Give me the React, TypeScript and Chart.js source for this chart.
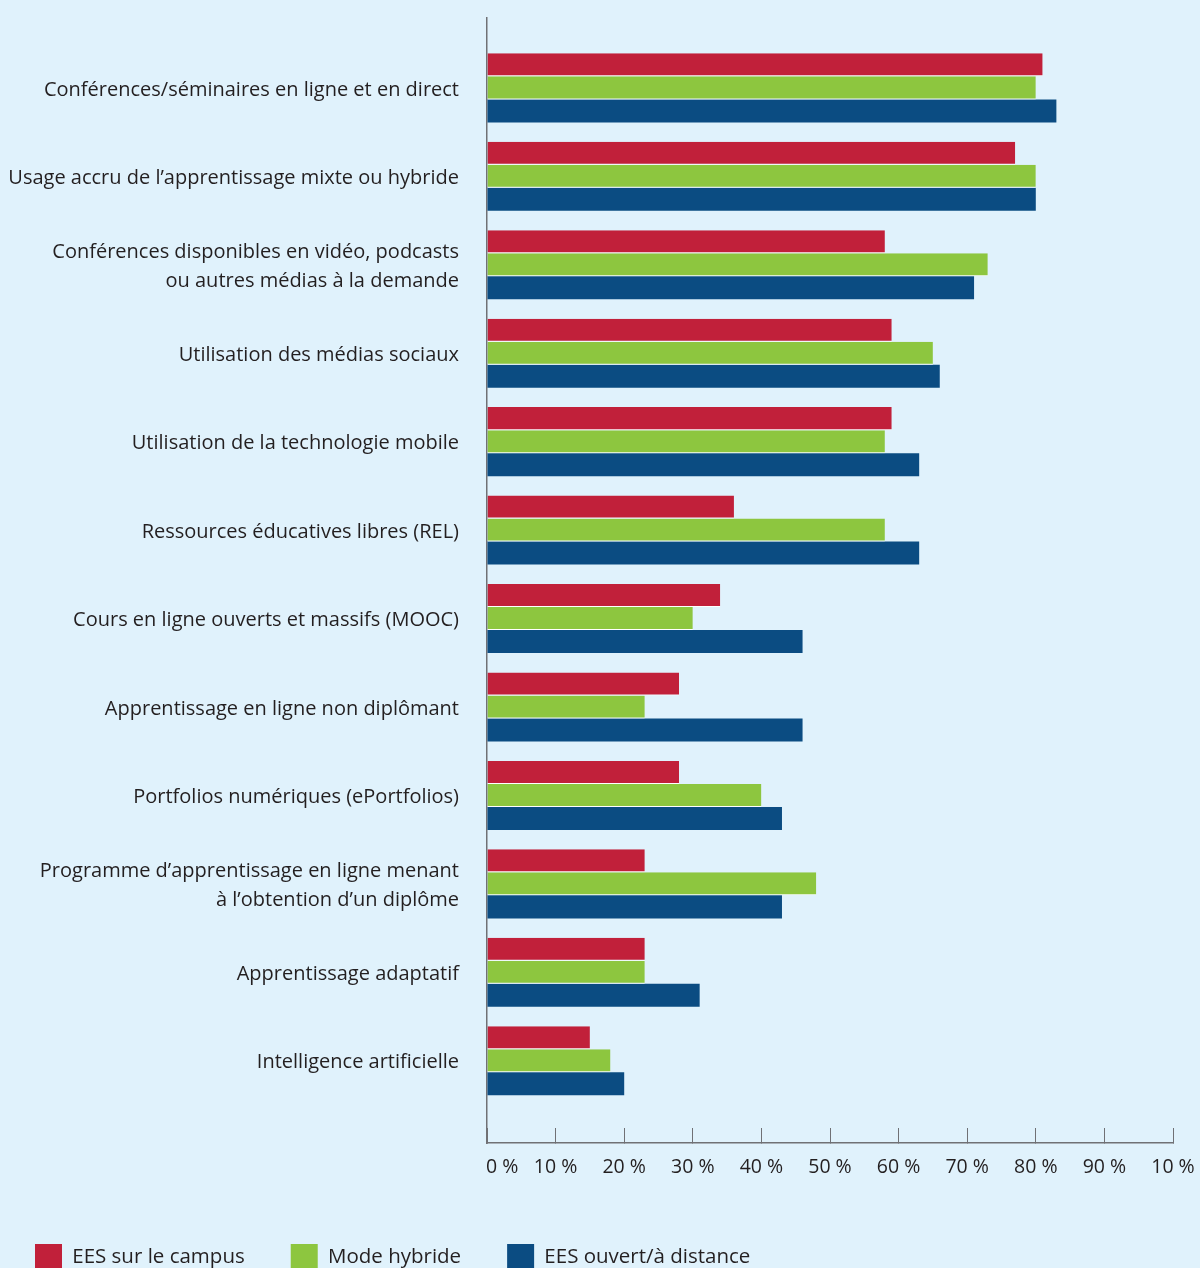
import React, { useEffect, useRef } from "react";
import { Chart, registerables } from "chart.js";

Chart.register(...registerables);

const categories: (string | string[])[] = [
  "Conférences/séminaires en ligne et en direct",
  "Usage accru de l’apprentissage mixte ou hybride",
  ["Conférences disponibles en vidéo, podcasts", "ou autres médias à la demande"],
  "Utilisation des médias sociaux",
  "Utilisation de la technologie mobile",
  "Ressources éducatives libres (REL)",
  "Cours en ligne ouverts et massifs (MOOC)",
  "Apprentissage en ligne non diplômant",
  "Portfolios numériques (ePortfolios)",
  ["Programme d’apprentissage en ligne menant", "à l’obtention d’un diplôme"],
  "Apprentissage adaptatif",
  "Intelligence artificielle",
];

const seriesNames = ["EES sur le campus", "Mode hybride", "EES ouvert/à distance"];
const campus = [81, 77, 58, 59, 59, 36, 34, 28, 28, 23, 23, 15];
const hybride = [80, 80, 73, 65, 58, 58, 30, 23, 40, 48, 23, 18];
const distance = [83, 80, 71, 66, 63, 63, 46, 46, 43, 43, 31, 20];
const xTickLabels = ["      0 %", "10 %", "20 %", "30 %", "40 %", "50 %", "60 %", "70 %", "80 %", "90 %", "10 %"];

const BG = "#e0f2fc";
const RED = "#c1203a";
const GREEN = "#8dc63f";
const BLUE = "#0b4c82";
const AXIS = "#707175";
const TEXT = "#231f20";
const FONT = "'Open Sans'";

export default function App() {
  const ref = useRef<HTMLCanvasElement>(null);

  useEffect(() => {
    document.body.style.margin = "0";
    document.body.style.background = BG;
    const toPts = (arr: number[]) => arr.map((v, i) => ({ x: v, y: i }));
    const chart = new Chart(ref.current as HTMLCanvasElement, {
      type: "bar",
      data: {
        datasets: [
          {
            label: seriesNames[0],
            data: toPts(campus),
            backgroundColor: RED,
            borderColor: "#ffffff",
            borderWidth: { top: 0, bottom: 1, left: 0, right: 0 },
            borderSkipped: false,
          },
          {
            label: seriesNames[1],
            data: toPts(hybride),
            backgroundColor: GREEN,
            borderColor: "#ffffff",
            borderWidth: { top: 0, bottom: 1, left: 0, right: 0 },
            borderSkipped: false,
          },
          {
            label: seriesNames[2],
            data: toPts(distance),
            backgroundColor: BLUE,
            borderWidth: 0,
          },
        ] as any,
      },
      options: {
        indexAxis: "y",
        responsive: true,
        maintainAspectRatio: false,
        animation: false,
        datasets: { bar: { categoryPercentage: 0.781, barPercentage: 1 } },
        layout: { padding: { top: 18, right: 27, left: -11, bottom: 0 } },
        scales: {
          x: {
            type: "linear",
            position: "bottom",
            min: 0,
            max: 100,
            ticks: {
              stepSize: 10,
              callback: (v: any) => xTickLabels[Math.round(Number(v) / 10)],
              padding: 28,
              color: TEXT,
              font: { family: FONT, size: 19.5 },
              maxRotation: 0,
            },
            grid: {
              drawOnChartArea: false,
              drawTicks: true,
              tickLength: -15,
              color: AXIS,
              lineWidth: 1,
            },
            border: { display: true, color: AXIS, width: 1.5 },
            afterFit: (s: any) => {
              s.height = 55;
              s.paddingLeft = 0;
              s.paddingRight = 0;
            },
          },
          y: {
            type: "linear",
            reverse: true,
            offset: false,
            min: -0.79,
            max: 11.93,
            afterBuildTicks: (s: any) => {
              s.ticks = categories.map((_, i) => ({ value: i }));
            },
            ticks: {
              autoSkip: false,
              callback: (v: any) => categories[Math.round(Number(v))] as any,
              padding: 28,
              labelOffset: 2,
              color: TEXT,
              font: { family: FONT, size: 20, lineHeight: 1.45 },
            },
            grid: { drawOnChartArea: false, drawTicks: false, color: AXIS },
            border: { display: true, color: AXIS, width: 1.5 },
            afterFit: (s: any) => {
              s.width = 498;
              s.paddingTop = 0;
              s.paddingBottom = 0;
            },
          },
        },
        plugins: {
          legend: {
            position: "bottom",
            align: "start",
            labels: {
              boxWidth: 27,
              boxHeight: 27,
              padding: 46,
              color: TEXT,
              font: { family: FONT, size: 20.5 },
              generateLabels: (c: any) =>
                Chart.defaults.plugins.legend.labels
                  .generateLabels(c)
                  .map((l: any) => ({ ...l, lineWidth: 0, strokeStyle: "rgba(0,0,0,0)" })),
            },
          },
          tooltip: { enabled: false },
        },
      } as any,
    });
    return () => chart.destroy();
  }, []);

  return (
    <div style={{ width: 1200, height: 1268, overflow: "hidden", background: BG }}>
      <div style={{ width: 1200, height: 1281, position: "relative" }}>
        <canvas ref={ref} />
      </div>
    </div>
  );
}
